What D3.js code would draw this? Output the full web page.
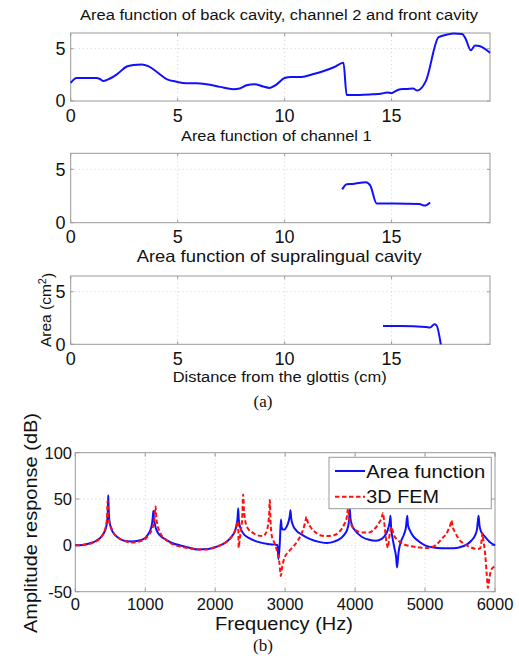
<!DOCTYPE html>
<html><head><meta charset="utf-8">
<script src="https://cdn.jsdelivr.net/npm/d3@7"></script>
<style>html,body{margin:0;padding:0;background:#fff;}svg{display:block;}</style>
</head><body>
<svg id="c" width="519" height="659"></svg>
<script>
// ---- Data ----
const distTicks = [0, 5, 10, 15];
const areaTicks = [0, 5];
const backDist = [0,0.28,1.2,1.37,1.53,1.84,2.16,2.62,2.93,3.32,3.63,4.0,4.48,4.95,5.42,5.89,6.35,6.98,7.6,7.9,8.22,8.6,9.0,9.3,9.6,10.0,10.3,10.8,11.3,11.8,12.3,12.75,12.9,13.5,14.1,14.5,14.8,15.0,15.1,15.4,15.7,16.0,16.2,16.6,17.2,17.6,17.9,18.3,18.45,18.7,18.9,19.1,19.45,19.6];
const backArea = [1.74,2.2,2.2,2.1,1.9,2.15,2.55,3.3,3.45,3.5,3.33,2.82,2.1,1.84,1.7,1.7,1.6,1.35,1.13,1.2,1.5,1.6,1.38,1.25,1.55,2.2,2.3,2.3,2.55,2.85,3.23,3.65,0.58,0.58,0.64,0.7,0.82,0.75,0.84,1.13,1.15,1.2,1.0,1.9,6.1,6.35,6.45,6.4,6.0,4.85,5.3,5.25,4.85,4.6];
const ch1Dist = [12.69,12.9,13.2,13.8,14.0,14.3,15.1,16.3,16.55,16.8];
const ch1Area = [3.12,3.6,3.63,3.8,3.5,1.8,1.8,1.75,1.6,1.9];
const supDist = [14.6,15.4,16.6,16.8,17.0,17.1,17.3];
const supArea = [1.74,1.75,1.65,1.6,1.9,1.8,0];

const freqTicks = [0,1000,2000,3000,4000,5000,6000];
const dbTicks = [-50,0,50,100];
const afFreq = [0,100,200,300,380,420,445,460,467,471,476,485,505,540,600,700,800,900,1000,1050,1080,1100,1110,1116,1124,1140,1170,1220,1300,1400,1500,1600,1750,1900,2000,2100,2180,2240,2280,2305,2320,2329,2337,2355,2400,2480,2600,2750,2850,2890,2905,2925,2940,2948,2965,2990,3020,3050,3068,3076,3085,3110,3160,3250,3350,3500,3600,3700,3800,3860,3895,3915,3924,3932,3955,4000,4100,4200,4300,4380,4440,4480,4498,4506,4514,4535,4560,4585,4600,4620,4660,4700,4728,4746,4756,4785,4830,4900,5000,5100,5250,5400,5500,5600,5660,5710,5742,5765,5777,5800,5850,5920,6000];
const afDb   = [0,0.5,2,5,10,15,21,30,42,54,42,28,20,14,9,5,4.3,5,8,13,18,25,32,37,30,22,15,10,6,2,0,-2,-4.5,-4,-2,1,5,10,15,22,30,40,28,20,13,8,4,1.5,0.8,0.5,-15,5,28,20,17,17,20,26,33,38,30,22,16,11,7,3.5,2.5,4,8,13,19,28,40,30,22,16,9,6,5,7,12,20,27,32,20,8,-2,-12,-24,-8,5,12,20,32,22,16,10,5,0,-2,-3,-3,-2,1,5,10,17,32,22,15,10,4,0];
const femFreq = [0,100,200,300,380,420,445,455,462,468,480,510,550,620,700,800,900,1000,1060,1100,1130,1148,1158,1175,1210,1280,1400,1550,1700,1850,2000,2100,2180,2250,2290,2315,2328,2336,2348,2365,2385,2400,2410,2430,2470,2530,2600,2680,2730,2755,2772,2780,2792,2810,2850,2890,2920,2938,2960,3000,3060,3120,3180,3230,3270,3292,3305,3320,3360,3420,3500,3600,3700,3780,3840,3880,3900,3912,3945,4000,4100,4200,4280,4340,4380,4400,4412,4430,4450,4470,4490,4520,4550,4620,4700,4800,4900,5000,5100,5180,5250,5300,5340,5365,5377,5395,5430,5480,5550,5650,5750,5790,5808,5820,5835,5860,5880,5900,5920,5948,6000];
const femDb   = [0,0.3,1.5,4.5,10,16,24,32,48,36,28,20,13,8,5,3,4,7,12,18,28,42,30,22,14,7,1,-2,-4,-4.5,-2,1,5,11,17,24,26,-2.5,5,15,28,55,40,26,18,14,11,10,14,22,35,49,25,10,2,-8,-20,-33,-22,-12,-6,-1,5,12,20,27,31,26,20,15,11,10,11,15,22,30,40,30,22,17,14,14,18,24,30,35,28,15,3,-2.6,10,20,12,5,1,-1,-2,-3,-2,2,8,12,18,23,27,20,14,7,2,-2,-4,-3,5,13,5,-10,-30,-46,-35,-26,-22.7];

// ---- Drawing ----
const svg = d3.select("#c");
const FONT = "Liberation Sans, Arial, Helvetica, sans-serif";
const AXC = "#9a9a9a", GRIDC = "#cfcfcf", TXT = "#111";

function frame(g, x, y, xt, yt, tickLen) {
  const [x0, x1] = x.range(), [y0, y1] = y.range();
  g.selectAll(null).data(xt.filter(t => x(t) > x0 + 1 && x(t) < x1 - 1)).enter().append("line")
    .attr("x1", d => x(d)).attr("x2", d => x(d)).attr("y1", y0).attr("y2", y1)
    .attr("stroke", GRIDC).attr("stroke-dasharray", "1,3");
  g.selectAll(null).data(yt.filter(t => y(t) < y0 - 1 && y(t) > y1 + 1)).enter().append("line")
    .attr("y1", d => y(d)).attr("y2", d => y(d)).attr("x1", x0).attr("x2", x1)
    .attr("stroke", GRIDC).attr("stroke-dasharray", "1,3");
  xt.forEach(t => {
    g.append("line").attr("x1", x(t)).attr("x2", x(t)).attr("y1", y0).attr("y2", y0 - tickLen).attr("stroke", AXC);
    g.append("line").attr("x1", x(t)).attr("x2", x(t)).attr("y1", y1).attr("y2", y1 + tickLen).attr("stroke", AXC);
  });
  yt.forEach(t => {
    g.append("line").attr("y1", y(t)).attr("y2", y(t)).attr("x1", x0).attr("x2", x0 + tickLen).attr("stroke", AXC);
    g.append("line").attr("y1", y(t)).attr("y2", y(t)).attr("x1", x1).attr("x2", x1 - tickLen).attr("stroke", AXC);
  });
  g.append("rect").attr("x", x0).attr("y", y1).attr("width", x1 - x0).attr("height", y0 - y1)
    .attr("fill", "none").attr("stroke", AXC).attr("stroke-width", 1);
}

function label(txt, x, y, size, len, opts = {}) {
  const t = svg.append("text").attr("x", x).attr("y", y).attr("text-anchor", "middle")
    .attr("font-family", opts.family || FONT).attr("font-size", size).attr("fill", TXT).text(txt);
  if (len) t.attr("textLength", len).attr("lengthAdjust", "spacingAndGlyphs");
  return t;
}

// Panels (a)
const panels = [
  {top: 33, bottom: 101, xs: backDist, ys: backArea, title: "Area function of back cavity, channel 2 and front cavity", tx: 279, ty: 19.5, tl: 398, tsize: 15.5},
  {top: 153.3, bottom: 222.7, xs: ch1Dist, ys: ch1Area, title: "Area function of channel 1", tx: 276.3, ty: 140.7, tl: 190.7, tsize: 15.5},
  {top: 276, bottom: 344.3, xs: supDist, ys: supArea, title: "Area function of supralingual cavity", tx: 279.2, ty: 261.7, tl: 285, tsize: 16.5}
];
panels.forEach(p => {
  const x = d3.scaleLinear().domain([0, 19.6]).range([70.7, 490]);
  const y = d3.scaleLinear().domain([0, 6.5]).range([p.bottom, p.top]);
  const g = svg.append("g");
  frame(g, x, y, distTicks, areaTicks, 3);
  g.append("path").datum(d3.zip(p.xs, p.ys))
    .attr("d", d3.line().x(d => x(d[0])).y(d => y(d[1])).curve(d3.curveMonotoneX))
    .attr("fill", "none").attr("stroke", "#1010ff").attr("stroke-width", 2).attr("stroke-linejoin", "round");
  distTicks.forEach(t => {
    g.append("text").attr("x", x(t)).attr("y", p.bottom + 20.7).attr("text-anchor", "middle")
      .attr("font-family", FONT).attr("font-size", 18).attr("fill", TXT).text(t);
  });
  areaTicks.forEach(t => {
    g.append("text").attr("x", 65.5).attr("y", y(t)).attr("dy", "0.36em").attr("text-anchor", "end")
      .attr("font-family", FONT).attr("font-size", 18).attr("fill", TXT).text(t);
  });
  label(p.title, p.tx, p.ty, p.tsize, p.tl);
});
label("Distance from the glottis (cm)", 279.7, 381.7, 15.5, 214);
{
  const t = svg.append("text").attr("x", 0).attr("y", 0).attr("text-anchor", "middle")
    .attr("font-family", FONT).attr("font-size", 15.5).attr("fill", TXT)
    .attr("transform", "translate(51,310) rotate(-90)");
  t.append("tspan").text("Area (cm");
  t.append("tspan").attr("dy", "-0.45em").attr("font-size", 11).text("2");
  t.append("tspan").attr("dy", "0.45em").text(")");
}
label("(a)", 263, 407, 17, null, {family: "Liberation Serif, Times New Roman, serif"});

// Chart (b)
{
  const x = d3.scaleLinear().domain([0, 6000]).range([75.3, 495]);
  const y = d3.scaleLinear().domain([-50, 100]).range([591.7, 452.7]);
  const g = svg.append("g");
  frame(g, x, y, freqTicks, dbTicks, 4);
  const lg = d3.line().x(d => x(d[0])).y(d => y(d[1])).curve(d3.curveMonotoneX);
  g.append("path").datum(d3.zip(afFreq, afDb)).attr("d", lg)
    .attr("fill", "none").attr("stroke", "#1010ff").attr("stroke-width", 2).attr("stroke-linejoin", "round");
  g.append("path").datum(d3.zip(femFreq, femDb)).attr("d", lg)
    .attr("fill", "none").attr("stroke", "#ff1010").attr("stroke-width", 2).attr("stroke-dasharray", "4.5,2.5").attr("stroke-linejoin", "round");
  freqTicks.forEach(t => {
    g.append("text").attr("x", x(t)).attr("y", 610).attr("text-anchor", "middle")
      .attr("font-family", FONT).attr("font-size", 16.5).attr("fill", TXT).text(t);
  });
  dbTicks.forEach(t => {
    g.append("text").attr("x", 72).attr("y", y(t)).attr("dy", "0.36em").attr("text-anchor", "end")
      .attr("font-family", FONT).attr("font-size", 16.5).attr("fill", TXT).text(t);
  });
  const lgd = g.append("g");
  lgd.append("rect").attr("x", 329).attr("y", 457.3).attr("width", 162.3).attr("height", 51.4)
    .attr("fill", "#fff").attr("stroke", AXC);
  lgd.append("line").attr("x1", 335).attr("x2", 365).attr("y1", 471).attr("y2", 471)
    .attr("stroke", "#1010ff").attr("stroke-width", 2);
  lgd.append("line").attr("x1", 335).attr("x2", 365).attr("y1", 496.7).attr("y2", 496.7)
    .attr("stroke", "#ff1010").attr("stroke-width", 2).attr("stroke-dasharray", "4.5,2.5");
  lgd.append("text").attr("x", 366.3).attr("y", 478.3).attr("font-family", FONT).attr("font-size", 19)
    .attr("fill", TXT).attr("textLength", 119).attr("lengthAdjust", "spacingAndGlyphs").text("Area function");
  lgd.append("text").attr("x", 366.3).attr("y", 503.3).attr("font-family", FONT).attr("font-size", 19)
    .attr("fill", TXT).attr("textLength", 72.7).attr("lengthAdjust", "spacingAndGlyphs").text("3D FEM");
}
label("Frequency (Hz)", 284, 630, 18, 138);
{
  const t = label("Amplitude response (dB)", 0, 0, 19, 220);
  t.attr("x", null).attr("y", null).attr("transform", "translate(37,523) rotate(-90)");
}
label("(b)", 263, 651, 17, null, {family: "Liberation Serif, Times New Roman, serif"});
</script>
</body></html>
